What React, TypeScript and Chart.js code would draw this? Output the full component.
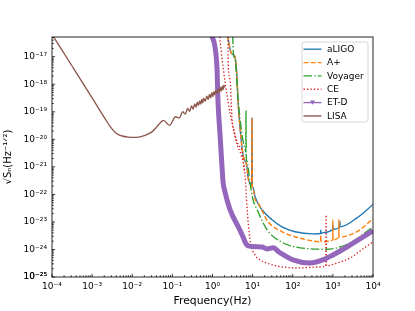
import React, { useEffect, useRef } from 'react';
import { Chart, registerables } from 'chart.js';

Chart.register(...registerables);

// ---------- data ----------
const seriesLabels = ['aLIGO', 'A+', 'Voyager', 'CE', 'ET-D', 'LISA'];

const xDecades = [-4, -3, -2, -1, 0, 1, 2, 3, 4];
const xTickLabels = ['10⁻⁴', '10⁻³', '10⁻²', '10⁻¹', '10⁰', '10¹', '10²', '10³', '10⁴'];
const yDecades = [-25, -24, -23, -22, -21, -20, -19, -18, -17];
const yTickLabels = ['10⁻²⁵', '10⁻²⁴', '10⁻²³', '10⁻²²', '10⁻²¹', '10⁻²⁰', '10⁻¹⁹', '10⁻¹⁸', '10⁻¹⁷'];

const xLabel = 'Frequency(Hz)';
const yLabel = '√Sₙ(Hz⁻¹ᐟ²)';

const aligoFreq = [2.4, 2.73, 3.06, 3.63, 4.07, 4.33, 4.84, 5.75, 7.24, 7.67, 8.6, 9.44, 9.64, 9.84, 10.2, 11.5, 17.1, 30.4, 54, 114, 316, 490, 500, 510, 568, 990, 1000, 1010, 1490, 1500, 1510, 3981, 10000];
const aligoAsd = [6e-17, 1.9e-17, 1.26e-17, 1.0e-17, 1.8e-18, 2.45e-19, 2.75e-20, 2.8e-21, 9.5e-22, 4.1e-22, 2.5e-22, 2.0e-22, 5.9e-20, 2.0e-22, 1.8e-22, 8.3e-23, 2.8e-23, 1.2e-23, 6.6e-24, 4.4e-24, 3.7e-24, 3.8e-24, 5.0e-24, 3.8e-24, 4.1e-24, 5.4e-24, 7.9e-24, 5.4e-24, 6.6e-24, 1.05e-23, 6.6e-24, 1.4e-23, 4.3e-23];

const aplusFreq = [2.4, 2.73, 3.06, 3.63, 4.07, 4.33, 4.84, 5.75, 7.24, 7.67, 8.6, 9.44, 9.64, 9.84, 10.2, 11.5, 13.5, 24.2, 54, 114, 226, 490, 500, 510, 990, 1000, 1010, 1400, 1413, 1426, 2690, 4786, 10000];
const aplusAsd = [6e-17, 1.9e-17, 1.26e-17, 1.0e-17, 1.8e-18, 2.45e-19, 2.75e-20, 2.8e-21, 9.5e-22, 4.1e-22, 2.5e-22, 2.0e-22, 5.9e-20, 2.0e-22, 1.6e-22, 6.6e-23, 5.0e-23, 1.02e-23, 4.4e-24, 2.9e-24, 2.24e-24, 1.9e-24, 3.2e-24, 1.9e-24, 2.24e-24, 1.2e-23, 2.24e-24, 2.8e-24, 1.2e-23, 2.8e-24, 3.4e-24, 5.2e-24, 1.32e-23];

const voyagerFreq = [3.2, 3.31, 3.63, 4.33, 5.43, 6.46, 6.76, 6.84, 6.92, 7.24, 8.6, 10.2, 12.9, 22.8, 47.9, 151, 708, 2690, 10000];
const voyagerAsd = [6e-17, 1.26e-17, 8.3e-18, 2.9e-19, 1.5e-20, 4.4e-21, 3.5e-21, 1.05e-19, 2.5e-21, 1.6e-21, 2.7e-22, 6.5e-23, 2.8e-23, 5.2e-24, 2.0e-24, 1.15e-24, 1.02e-24, 1.74e-24, 6.6e-24];

const ceFreq = [1.48, 1.83, 2.43, 3.24, 4.07, 5.13, 6.46, 7.24, 8.6, 11.5, 15.1, 26.9, 57, 151, 355, 661, 676, 692, 1259, 2690, 4786, 10000];
const ceAsd = [7e-17, 4.3e-18, 2.45e-19, 2.75e-20, 6.6e-21, 2.8e-21, 5.2e-22, 3.5e-23, 2.24e-24, 6.3e-25, 4.2e-25, 2.95e-25, 2.3e-25, 2.14e-25, 2.3e-25, 2.5e-25, 1.8e-23, 2.55e-25, 3.2e-25, 4.9e-25, 8.9e-25, 1.9e-24];

const ce2Freq = [2.42, 2.48, 2.73, 3.06, 3.63, 4.33, 5.43, 6.3];
const ce2Asd = [7e-17, 4.3e-18, 1.55e-18, 6.3e-20, 1.5e-20, 6.6e-21, 3.6e-21, 6.2e-22];

const etdFreq = [0.93, 1.29, 1.37, 1.54, 1.73, 1.83, 2.04, 2.73, 4.57, 5.75, 6.46, 7.67, 17.1, 22.8, 32.2, 47.9, 101, 269, 568, 1000, 2239, 10000];
const etdAsd = [7e-17, 4.3e-18, 2.45e-19, 1.5e-20, 9.5e-22, 2.9e-22, 1.26e-22, 2.8e-23, 5.9e-24, 2.9e-24, 1.9e-24, 1.35e-24, 1.23e-24, 1.05e-24, 1.15e-24, 7.6e-25, 4.2e-25, 3.2e-25, 4.2e-25, 6.3e-25, 1.23e-24, 4.8e-24];

const lisaFreq = [1e-4, 3.16e-4, 1e-3, 2e-3, 2.82e-3, 3.98e-3, 5.62e-3, 7.94e-3, 1.26e-2, 2e-2, 3.16e-2, 4.17e-2, 0.05, 0.06, 0.085, 0.12, 0.15, 0.18, 0.21, 0.24, 0.27, 0.30, 0.33, 0.36, 0.39, 0.42, 0.45, 0.48, 0.51, 0.54, 0.57, 0.60, 0.66, 0.72, 0.78, 0.84, 0.90, 0.96, 1.02, 1.08, 1.14, 1.20, 1.29, 1.38, 1.47, 1.56, 1.65, 1.74, 1.83, 1.92, 2.0];
const lisaAsd = [6.5e-17, 4.6e-18, 3.2e-19, 6.3e-20, 2.9e-20, 1.66e-20, 1.32e-20, 1.2e-20, 1.17e-20, 1.35e-20, 1.9e-20, 2.95e-20, 4.0e-20, 4.9e-20, 3.2e-20, 6.6e-20, 6.0e-20, 1.0e-19, 8.3e-20, 1.32e-19, 1.05e-19, 1.62e-19, 1.26e-19, 1.95e-19, 1.48e-19, 2.24e-19, 1.7e-19, 2.5e-19, 1.9e-19, 2.8e-19, 2.1e-19, 3.1e-19, 2.4e-19, 3.7e-19, 2.8e-19, 4.3e-19, 3.2e-19, 4.9e-19, 3.6e-19, 5.4e-19, 4.1e-19, 6.0e-19, 4.6e-19, 6.8e-19, 5.1e-19, 7.6e-19, 5.7e-19, 8.5e-19, 6.3e-19, 9.3e-19, 7.5e-19];

const X_MIN = 1e-4;
const X_MAX = 1e4;
const Y_MIN = 1e-25;
const Y_MAX = 5.2e-17;

// ---------- styles ----------
const FONT = 'DejaVu Sans';
const styles = [
  { color: '#1f77b4', width: 1.35, dash: [] as number[] },
  { color: '#ff7f0e', width: 1.35, dash: [5, 2.2] },
  { color: '#2ca02c', width: 1.35, dash: [8.6, 2.2, 1.35, 2.2] },
  { color: '#d62728', width: 1.35, dash: [1.35, 2.1] },
  { color: '#9467bd', width: 5, dash: [] as number[] },
  { color: '#8c564b', width: 1.35, dash: [] as number[] },
];

function pts(f: number[], s: number[]) {
  return f.map((x, i) => ({ x, y: s[i] }));
}

function decadeLabel(v: number, decades: number[], labels: string[]) {
  const e = Math.log10(v);
  const r = Math.round(e);
  if (Math.abs(e - r) > 1e-6) return '';
  const i = decades.indexOf(r);
  return i >= 0 ? labels[i] : '';
}

const framePlugin = {
  id: 'frameTicks',
  afterDatasetsDraw(chart: any) {
    const ctx = chart.ctx;
    const { left, right, top, bottom } = chart.chartArea;
    const xs = chart.scales.x;
    const ys = chart.scales.y;
    ctx.save();
    ctx.strokeStyle = '#000';
    ctx.lineWidth = 0.75;
    for (let d = -4; d <= 4; d++) {
      for (let k = 1; k <= 9; k++) {
        const v = k * Math.pow(10, d);
        if (v < X_MIN * 0.999 || v > X_MAX * 1.001) continue;
        const px = xs.getPixelForValue(v);
        const len = k === 1 ? 3.1 : 1.8;
        ctx.beginPath();
        ctx.moveTo(px, bottom);
        ctx.lineTo(px, bottom - len);
        ctx.stroke();
      }
    }
    for (let d = -25; d <= -17; d++) {
      for (let k = 1; k <= 9; k++) {
        const v = k * Math.pow(10, d);
        if (v < Y_MIN * 0.999 || v > Y_MAX) continue;
        const py = ys.getPixelForValue(v);
        const len = k === 1 ? 3.1 : 1.8;
        ctx.beginPath();
        ctx.moveTo(left, py);
        ctx.lineTo(left + len, py);
        ctx.stroke();
      }
    }
    ctx.lineWidth = 0.85;
    ctx.strokeRect(left, top, right - left, bottom - top);
    ctx.restore();
  },
};

const legendPlugin = {
  id: 'insideLegend',
  afterDraw(chart: any) {
    const ctx = chart.ctx;
    const { right, top } = chart.chartArea;
    const x0 = right - 71;
    const y0 = top + 5;
    const w = 66;
    const h = 80;
    ctx.save();
    ctx.fillStyle = 'rgba(255,255,255,0.8)';
    ctx.strokeStyle = '#cccccc';
    ctx.lineWidth = 0.8;
    ctx.beginPath();
    if ((ctx as any).roundRect) (ctx as any).roundRect(x0, y0, w, h, 2.5);
    else ctx.rect(x0, y0, w, h);
    ctx.fill();
    ctx.stroke();
    ctx.font = `9px "${FONT}"`;
    ctx.textBaseline = 'middle';
    ctx.textAlign = 'left';
    seriesLabels.forEach((lab, i) => {
      const st = styles[i];
      const y = y0 + 7.2 + i * 13.35;
      ctx.strokeStyle = st.color;
      ctx.lineWidth = i === 4 ? 1.35 : st.width;
      ctx.setLineDash(st.dash);
      ctx.beginPath();
      ctx.moveTo(x0 + 1.5, y);
      ctx.lineTo(x0 + 19.5, y);
      ctx.stroke();
      ctx.setLineDash([]);
      if (i === 4) {
        ctx.fillStyle = st.color;
        ctx.beginPath();
        ctx.moveTo(x0 + 8, y - 2);
        ctx.lineTo(x0 + 13, y - 2);
        ctx.lineTo(x0 + 10.5, y + 2.2);
        ctx.closePath();
        ctx.fill();
      }
      ctx.fillStyle = '#000';
      ctx.fillText(lab, x0 + 25, y + 0.5);
    });
    ctx.restore();
  },
};

export default function App() {
  const ref = useRef<HTMLCanvasElement>(null);

  useEffect(() => {
    document.body.style.margin = '0';
    const series = [
      pts(aligoFreq, aligoAsd),
      pts(aplusFreq, aplusAsd),
      pts(voyagerFreq, voyagerAsd),
      pts(ceFreq, ceAsd),
      pts(etdFreq, etdAsd),
      pts(lisaFreq, lisaAsd),
    ];
    const datasets: any[] = series.map((data, i) => ({
      label: seriesLabels[i],
      data,
      borderColor: styles[i].color,
      backgroundColor: styles[i].color,
      borderWidth: styles[i].width,
      borderDash: styles[i].dash,
      pointRadius: 0,
      fill: false,
      cubicInterpolationMode: 'monotone',
      clip: 0,
      order: 10 - i,
    }));
    datasets.push({
      label: 'CE (2)',
      data: pts(ce2Freq, ce2Asd),
      borderColor: styles[3].color,
      borderWidth: styles[3].width,
      borderDash: styles[3].dash,
      pointRadius: 0,
      fill: false,
      cubicInterpolationMode: 'monotone',
      clip: 0,
      order: 7,
    });

    const chart = new Chart(ref.current as HTMLCanvasElement, {
      type: 'line',
      data: { datasets },
      options: {
        animation: false,
        responsive: false,
        maintainAspectRatio: false,
        parsing: false as any,
        layout: { padding: { top: 37, right: 42, left: 0, bottom: 0 } },
        plugins: {
          legend: { display: false },
          tooltip: { enabled: false },
        },
        scales: {
          x: {
            type: 'logarithmic',
            min: X_MIN,
            max: X_MAX,
            position: 'bottom',
            grid: { display: false, drawTicks: false },
            border: { display: false },
            ticks: {
              autoSkip: false,
              maxRotation: 0,
              minRotation: 0,
              padding: 4,
              color: '#000',
              font: { family: FONT, size: 9 },
              callback: (v: any) => decadeLabel(Number(v), xDecades, xTickLabels),
            },
            title: {
              display: true,
              text: xLabel,
              color: '#000',
              font: { family: FONT, size: 10.8 },
              padding: { top: 0, bottom: 3 },
            },
            afterFit: (s: any) => {
              s.height = 34;
            },
          },
          y: {
            type: 'logarithmic',
            min: Y_MIN,
            max: Y_MAX,
            position: 'left',
            grid: { display: false, drawTicks: false },
            border: { display: false },
            ticks: {
              autoSkip: false,
              padding: 5,
              color: '#000',
              font: { family: FONT, size: 9 },
              callback: (v: any) => decadeLabel(Number(v), yDecades, yTickLabels),
            },
            title: {
              display: true,
              text: yLabel,
              color: '#000',
              font: { family: FONT, size: 10 },
              padding: { top: 2, bottom: 0 },
            },
            afterFit: (s: any) => {
              s.width = 52;
            },
          },
        },
      } as any,
      plugins: [framePlugin, legendPlugin],
    });
    return () => chart.destroy();
  }, []);

  return (
    <div style={{ position: 'absolute', left: 0, top: 0, width: 415, height: 311, background: '#fff' }}>
      <canvas ref={ref} width={415} height={311} style={{ display: 'block', width: 415, height: 311 }} />
    </div>
  );
}
